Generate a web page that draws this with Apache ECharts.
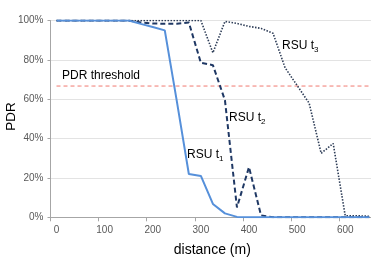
<!DOCTYPE html>
<html>
<head>
<meta charset="utf-8">
<script src="https://cdn.jsdelivr.net/npm/echarts@6/dist/echarts.min.js"></script>
<style>
html,body{margin:0;padding:0;background:#fff;}
#chart{width:371px;height:265px;}
</style>
</head>
<body>
<div id="chart"></div>
<script>
// distance categories (m)
var categories = [0,25,50,75,100,125,150,175,200,225,250,275,300,325,350,375,400,425,450,475,500,525,550,575,600,625,650];
// PDR (%) per RSU
var rsuT1 = [100,100,100,100,100,100,100,98.3,96.7,95,59,22,21,6.8,2,0.2,0,0,0,0,0,0,0,0,0,0,0];
var rsuT2 = [100,100,100,100,100,100,100,99,98.5,98.3,98.3,99,78.5,77.3,59.5,5,25.5,1,0,0,0,0,0,0,0,0,0];
var rsuT3 = [100,100,100,100,100,100,100,100,100,100,100,100,100,83.6,99.5,98.5,97,96,93.5,76,67,58,32.5,37.5,0.8,0.8,0.5];
var threshold = [66.7,66.7,66.7,66.7,66.7,66.7,66.7,66.7,66.7,66.7,66.7,66.7,66.7,66.7,66.7,66.7,66.7,66.7,66.7,66.7,66.7,66.7,66.7,66.7,66.7,66.7,66.7];
var yTicks = [0,20,40,60,80,100];

var FONT = 'Liberation Sans';
var chart = echarts.init(document.getElementById('chart'), null, {renderer:'canvas'});
chart.setOption({
  animation:false,
  backgroundColor:'#ffffff',
  textStyle:{fontFamily:FONT},
  grid:{left:50.5, top:20.5, width:324.8, bottom:47.7, containLabel:false, outerBoundsMode:'none'},
  xAxis:{
    type:'category', data:categories, boundaryGap:true,
    axisLine:{lineStyle:{color:'#A6A6A6', width:1}},
    axisTick:{show:true, interval:3, length:4, lineStyle:{color:'#A6A6A6'}},
    axisLabel:{interval:3, fontSize:10, color:'#595959', margin:8, fontFamily:FONT},
    splitLine:{show:false}
  },
  yAxis:{
    type:'value', min:0, max:100, interval:20,
    axisLine:{show:true, lineStyle:{color:'#A6A6A6', width:1}},
    axisTick:{show:true, length:3, lineStyle:{color:'#A6A6A6'}},
    axisLabel:{formatter:'{value}%', fontSize:10, color:'#595959', margin:7, fontFamily:FONT},
    splitLine:{lineStyle:{color:'#E3E3E3', width:1}}
  },
  series:[
    {name:'threshold', type:'line', data:threshold, symbol:'none', z:1,
     lineStyle:{color:'#F07870', width:1, type:[4,3]}},
    {name:'RSU t3', type:'line', data:rsuT3, symbol:'none', z:2,
     lineStyle:{color:'#2E3D57', width:1.6, type:[1.5,1.5]}},
    {name:'RSU t2', type:'line', data:rsuT2, symbol:'none', z:3,
     lineStyle:{color:'#1F3864', width:2, type:[5,3]}},
    {name:'RSU t1', type:'line', data:rsuT1, symbol:'none', z:4,
     lineStyle:{color:'#5690DA', width:2}}
  ],
  graphic:[
    {type:'text', x:11.5, y:116.5, rotation:Math.PI/2,
     style:{text:'PDR', fontSize:13.5, fill:'#000', fontFamily:FONT, align:'center', verticalAlign:'middle'}},
    {type:'text', x:212.3, y:250, 
     style:{text:'distance (m)', fontSize:14, fill:'#000', fontFamily:FONT, align:'center', verticalAlign:'middle'}},
    {type:'text', left:62, top:70, style:{text:'PDR threshold', fontSize:12, fill:'#000', fontFamily:FONT}},
    {type:'text', left:187, top:149, style:{text:'RSU t{s|1}', fontSize:12, fill:'#000', fontFamily:FONT,
       rich:{s:{fontSize:8, padding:[7,0,0,0], fill:'#000', fontFamily:FONT}}}},
    {type:'text', left:229, top:112, style:{text:'RSU t{s|2}', fontSize:12, fill:'#000', fontFamily:FONT,
       rich:{s:{fontSize:8, padding:[7,0,0,0], fill:'#000', fontFamily:FONT}}}},
    {type:'text', left:282, top:40, style:{text:'RSU t{s|3}', fontSize:12, fill:'#000', fontFamily:FONT,
       rich:{s:{fontSize:8, padding:[7,0,0,0], fill:'#000', fontFamily:FONT}}}}
  ]
});
</script>
</body>
</html>
